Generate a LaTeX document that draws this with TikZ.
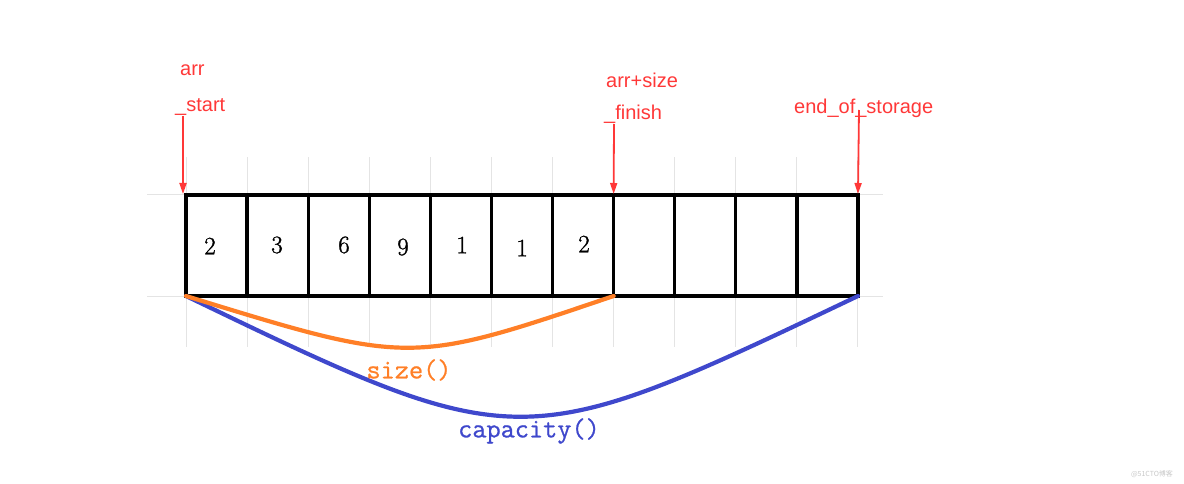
\documentclass[tikz,border=0pt]{standalone}
\usepackage{fontspec}
\setmainfont{Latin Modern Roman}
\newfontfamily\digitfont{Latin Modern Roman}[FakeBold=1.2]
\newfontfamily\labelfont{Liberation Sans}
\newfontfamily\monofont{Latin Modern Mono}[FakeBold=0.8]
\newfontfamily\cjkfont{Noto Sans CJK SC}
\usetikzlibrary{arrows.meta}
\definecolor{ptrred}{RGB}{255,56,56}
\definecolor{sizeorange}{RGB}{255,127,39}
\definecolor{capblue}{RGB}{63,72,204}
\definecolor{gridgray}{RGB}{228,228,228}
\tikzset{
  cell/.style={draw=black, line width=3.2pt, minimum width=61.09pt, minimum height=101pt, inner sep=0pt, outer sep=0pt},
  digit/.style={font=\digitfont\fontsize{25}{25}\selectfont, inner sep=0pt},
  ptrlabel/.style={font=\labelfont\fontsize{20}{20}\selectfont, text=ptrred, anchor=base west, inner sep=0pt},
  ptrarrow/.style={draw=ptrred, line width=1.8pt, -{Triangle[length=11pt,width=7pt]}},
  gridline/.style={draw=gridgray, line width=1pt},
  curvelabel/.style={font=\monofont\fontsize{27.5}{27.5}\selectfont, inner sep=0pt},
}
\begin{document}
\begin{tikzpicture}[x=1pt,y=-1pt]
\useasboundingbox (0,0) rectangle (1184,484);
% background grid
\foreach \i in {0,...,11} {
  \draw[gridline] ({186+61.09*\i},157) -- ({186+61.09*\i},347);
}
\draw[gridline] (147,195) -- (883,195);
\draw[gridline] (147,296) -- (883,296);
% cells
\foreach \i in {1,...,11} {
  \node[cell] (c\i) at ({186+61.09*(\i-0.5)},245.5) {};
}
% digits
\node[digit] (d1) at (210,246) {2};
\node[digit] (d2) at (277,245) {3};
\node[digit] (d3) at (344,245) {6};
\node[digit] (d4) at (403,247) {9};
\node[digit] (d5) at (462,245) {1};
\node[digit] (d6) at (522,248) {1};
\node[digit] (d7) at (584,244) {2};
% pointer labels
\node[ptrlabel] (larr) at (180,76) {arr};
\node[ptrlabel] (lstart) at (175,112) {\_start};
\node[ptrlabel] (lsize) at (606,88) {arr+size};
\node[ptrlabel] (lfinish) at (604,120) {\_finish};
\node[ptrlabel] (lend) at (794,114) {end\_of\_storage};
% arrows
\coordinate (astart) at (183,116);
\coordinate (afinish) at (614,124);
\coordinate (aend) at (859,110);
\draw[ptrarrow] (astart) -- ([xshift=-3pt,yshift=1pt]c1.north west);
\draw[ptrarrow] (afinish) -- ([yshift=1pt]c7.north east);
\draw[ptrarrow] (aend) -- ([yshift=1pt]c11.north east);
% curves
\draw[capblue, line width=4.2pt, line cap=round] (c1.south west) .. controls (520,457) and (520,457) .. (c11.south east);
\draw[sizeorange, line width=4.2pt, line cap=round] (c1.south west) .. controls (410,365) and (410,365) .. (c7.south east);
\node[curvelabel, text=sizeorange] (lsz) at (409,370) {size()};
\node[curvelabel, text=capblue] (lcap) at (529,431) {capacity()};
% watermark
\node[font=\cjkfont\fontsize{7}{7}\selectfont, text=black!22, inner sep=0pt] (wm) at (1152,474) {@51CTO博客};
\end{tikzpicture}
\end{document}
